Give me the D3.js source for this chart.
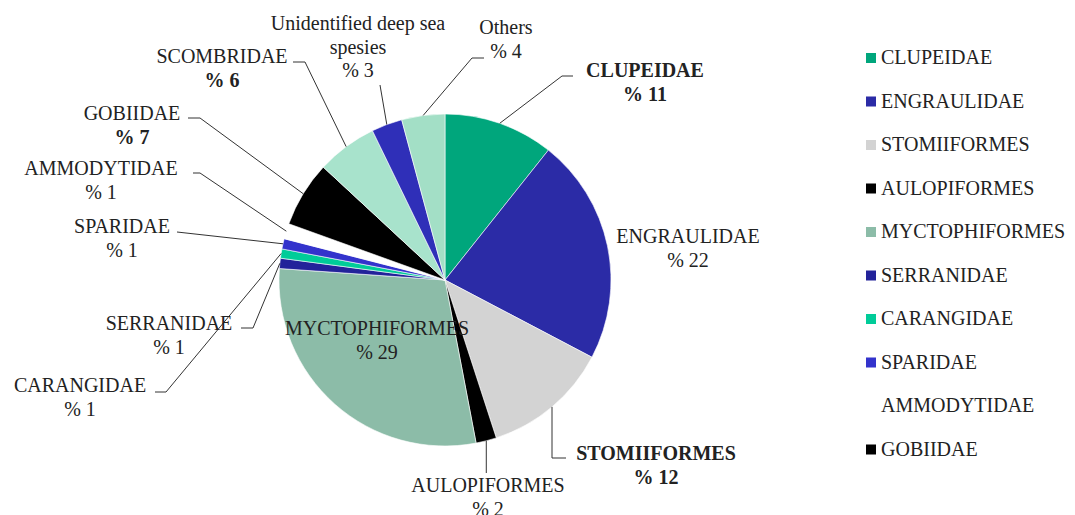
<!DOCTYPE html>
<html>
<head>
<meta charset="utf-8">
<script src="https://cdn.jsdelivr.net/npm/d3@7"></script>
<style>
  body { margin: 0; background: #fff; }
  svg text { font-family: "Liberation Serif", "Times New Roman", serif; font-size: 20px; fill: #222; }
</style>
</head>
<body>
<div class="chartContainer"></div>
<script>
// slices, clockwise from 12 o'clock
var categories = ["CLUPEIDAE", "ENGRAULIDAE", "STOMIIFORMES", "AULOPIFORMES", "MYCTOPHIFORMES",
                  "SERRANIDAE", "CARANGIDAE", "SPARIDAE", "AMMODYTIDAE", "GOBIIDAE",
                  "SCOMBRIDAE", "Unidentified deep sea spesies", "Others"];
var values = [10.7, 22.0, 12.3, 2.0, 29.1, 1.0, 0.9, 1.0, 1.5, 6.4, 5.9, 3.0, 4.2];
var pctLabels = ["% 11", "% 22", "% 12", "% 2", "% 29", "% 1", "% 1", "% 1", "% 1", "% 7", "% 6", "% 3", "% 4"];
var colors = ["#00a67c", "#2b2ba6", "#d3d3d3", "#000000", "#8cbca8",
              "#23239a", "#00cc99", "#3333cc", "#ffffff", "#000000",
              "#a8e3cc", "#2f2fb8", "#a3dfc6"];
var legendCount = 10; // legend only shows the first ten

var width = 1075;
var height = 515;
var cx = 445, cy = 280, r = 166;
var lineH = 23.5;

// label layout: text centre, first baseline, name lines, bold flags, leader bend points
var labelLayout = [
  {x: 645, y: 77,  lines: ["CLUPEIDAE"], boldName: true, boldPct: true, path: [[562, 76], [573, 76]]},
  {x: 688, y: 243, lines: ["ENGRAULIDAE"], path: null},
  {x: 656, y: 460, lines: ["STOMIIFORMES"], boldName: true, boldPct: true, path: [[552, 458], [566, 458]]},
  {x: 488, y: 492, lines: ["AULOPIFORMES"], vertical: true, path: [[0, 473]]},
  {x: 377, y: 335, lines: ["MYCTOPHIFORMES"], path: null},
  {x: 169, y: 330, lines: ["SERRANIDAE"], path: [[253, 328], [241, 328]]},
  {x: 80,  y: 392, lines: ["CARANGIDAE"], path: [[166, 392], [155, 392]]},
  {x: 122, y: 233, lines: ["SPARIDAE"], path: [[177, 232]]},
  {x: 101, y: 175, lines: ["AMMODYTIDAE"], path: [[200, 173], [193, 173]]},
  {x: 132, y: 120, lines: ["GOBIIDAE"], boldPct: true, path: [[200, 118], [188, 118]]},
  {x: 222, y: 63,  lines: ["SCOMBRIDAE"], boldPct: true, path: [[305, 62], [293, 62]]},
  {x: 358, y: 30,  lines: ["Unidentified deep sea", "spesies"], path: [[380, 85]]},
  {x: 506, y: 34,  lines: ["Others"], path: [[472, 58], [484, 58]]}
];

var svg = d3.select(".chartContainer")
  .append("svg")
    .attr("width", width)
    .attr("height", height);

var pie = d3.pie().sort(null).value(function(d){ return d; });
var arcs = pie(values);

var arc = d3.arc().innerRadius(0).outerRadius(r);
var edgeArc = d3.arc().innerRadius(r).outerRadius(r);

var g = svg.append("g").attr("transform", "translate(" + cx + "," + cy + ")");

g.selectAll(".slice")
    .data(arcs)
  .enter().append("path")
    .attr("class", "slice")
    .attr("d", arc)
    .style("fill", function(d, i){ return colors[i]; })
    .style("stroke", "#fff")
    .style("stroke-width", 0.6);

// ======= leader lines ========
var line = d3.line();
svg.selectAll(".leader")
    .data(arcs.filter(function(d, i){ return labelLayout[i].path; }))
  .enter().append("path")
    .attr("class", "leader")
    .attr("d", function(d){
      var lay = labelLayout[d.index];
      var c = edgeArc.centroid(d);
      var start = [cx + c[0], cy + c[1]];
      var pts = [start].concat(lay.path.map(function(p){
        return lay.vertical ? [start[0], p[1]] : p;
      }));
      return line(pts);
    })
    .style("fill", "none")
    .style("stroke", "#333")
    .style("stroke-width", 1);

// ======= data labels ========
arcs.forEach(function(d, i){
  var lay = labelLayout[i];
  var t = svg.append("text")
      .attr("x", lay.x)
      .attr("y", lay.y)
      .attr("text-anchor", "middle");
  lay.lines.forEach(function(s, k){
    t.append("tspan")
      .attr("x", lay.x)
      .attr("dy", k == 0 ? 0 : lineH)
      .style("font-weight", lay.boldName ? "bold" : "normal")
      .text(s);
  });
  t.append("tspan")
    .attr("x", lay.x)
    .attr("dy", lineH)
    .style("font-weight", lay.boldPct ? "bold" : "normal")
    .text(pctLabels[i]);
});

// ======= legend ========
var legend = svg.append("g").attr("class", "legend").attr("transform", "translate(866,58)");
var rowH = 43.5;

var items = legend.selectAll(".item")
    .data(categories.slice(0, legendCount))
  .enter().append("g")
    .attr("class", "item")
    .attr("transform", function(d, i){ return "translate(0," + (i * rowH) + ")"; });

items.append("rect")
    .attr("x", 0)
    .attr("y", -5)
    .attr("width", 10)
    .attr("height", 10)
    .style("fill", function(d, i){ return colors[i]; });

items.append("text")
    .attr("x", 15)
    .attr("y", 6)
    .text(function(d){ return d; });
</script>
</body>
</html>
